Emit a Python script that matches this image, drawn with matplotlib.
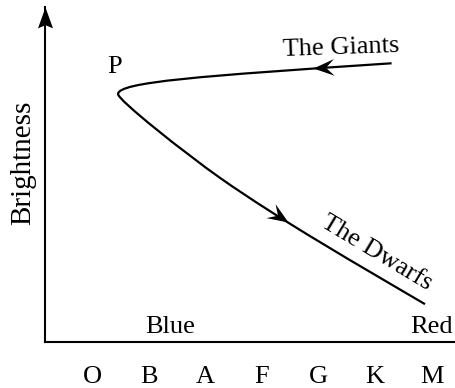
import numpy as np
import matplotlib
matplotlib.use("Agg")
import matplotlib.pyplot as plt
from matplotlib.path import Path
from matplotlib.patches import PathPatch
from matplotlib.markers import MarkerStyle
from matplotlib.transforms import Affine2D

plt.rcParams['font.family'] = ['Liberation Serif', 'DejaVu Serif']

classes = ['O', 'B', 'A', 'F', 'G', 'K', 'M']
# spectral class index (O=0 ... M=6) vs brightness
# the track is drawn as three cubic bezier pieces: giants -> P -> dwarfs
track_x = [5.29, 1.91, 0.46, 0.46, 0.46, 1.64, 2.26, 3.32, 4.73, 5.88]
track_y = [8.32, 7.94, 7.76, 7.40, 7.22, 5.64, 4.90, 3.64, 2.27, 1.13]
# arrow tips and the point each arrow comes from
arrow_tip = [(3.90, 8.18), (3.46, 3.58)]
arrow_from = [(4.25, 8.21), (2.26, 4.90)]

FS = 19

fig = plt.figure(figsize=(4.55, 3.88), dpi=100)
ax = fig.add_axes([45/455, 46/388, 410/455, 335/388])
ax.set_xlim(-0.83, 6.41)
ax.set_ylim(0, 10)
for s in ['top', 'right']:
    ax.spines[s].set_visible(False)
for s in ['left', 'bottom']:
    ax.spines[s].set_linewidth(1.5)
ax.set_xticks([])
ax.set_yticks([])
ax.patch.set_alpha(0)


def head(notch, width=0.38):
    verts = [(0, 0), (-1, width), (-notch, 0), (-1, -width), (0, 0)]
    codes = [Path.MOVETO, Path.LINETO, Path.LINETO, Path.LINETO, Path.CLOSEPOLY]
    return Path(verts, codes)


def draw_head(x, y, angle, notch, ms, width=0.38):
    m = MarkerStyle(head(notch, width), transform=Affine2D().rotate_deg(angle))
    ax.plot(x, y, marker=m, ms=ms, color='black', mew=0, ls='none', clip_on=False)


codes = [Path.MOVETO] + [Path.CURVE4] * (len(track_x) - 1)
track = Path(np.column_stack([track_x, track_y]), codes)
ax.add_patch(PathPatch(track, fc='none', ec='black', lw=1.6, capstyle='butt'))

fig.canvas.draw()
for (tx, ty), (fx, fy) in zip(arrow_tip, arrow_from):
    p1 = ax.transData.transform((fx, fy))
    p2 = ax.transData.transform((tx, ty))
    ang = np.degrees(np.arctan2(p2[1] - p1[1], p2[0] - p1[0]))
    draw_head(tx, ty, ang, 0.6, 30, 0.4)

# y-axis arrow
draw_head(-0.83, 10, 90, 0.85, 30, 0.36)

ax.text(0.39, 8.02, 'P', ha='center', va='baseline', fontsize=FS)
ax.text(3.37, 8.55, 'The Giants', rotation=2, rotation_mode='anchor',
        ha='left', va='baseline', fontsize=FS)
ax.text(4.97, 2.51, 'The Dwarfs', rotation=-31, rotation_mode='anchor',
        ha='center', va='baseline', fontsize=FS)
ax.text(1.38, 0.27, 'Blue', ha='center', va='baseline', fontsize=FS)
ax.text(6.0, 0.27, 'Red', ha='center', va='baseline', fontsize=FS)
ax.text(-1.10, 5.34, 'Brightness', rotation=90, rotation_mode='anchor',
        ha='center', va='baseline', fontsize=21)
for i, c in enumerate(classes):
    ax.text(i, -1.23, c, ha='center', va='baseline', fontsize=FS)

fig.savefig('out.png', dpi=100)
